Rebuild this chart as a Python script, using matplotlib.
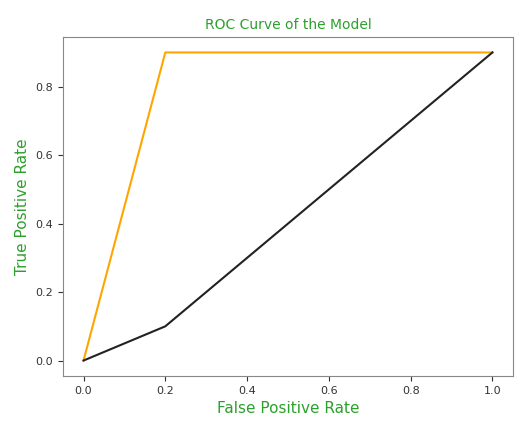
import numpy as np
import matplotlib
matplotlib.use('Agg')
import matplotlib.pyplot as plt

# roc points of the model
fpr = [0.0, 0.2, 1.0]
tpr = [0.0, 0.9, 0.9]
# second curve
fpr2 = [0.0, 0.2, 1.0]
tpr2 = [0.0, 0.1, 0.9]

fig = plt.figure(figsize=(5.17, 4.21), dpi=100)
ax = fig.add_axes([0.122, 0.107, 0.870, 0.805])
ax.plot(fpr, tpr, color='orange', linewidth=1.5)
ax.plot(fpr2, tpr2, color='#222222', linewidth=1.5)
ax.set_xticks([0.0, 0.2, 0.4, 0.6, 0.8, 1.0])
ax.set_yticks([0.0, 0.2, 0.4, 0.6, 0.8])
ax.tick_params(labelsize=8, colors='#333333')
for s in ax.spines.values():
    s.set_color('#888888')
ax.set_title('ROC Curve of the Model', color='#2ca02c', fontsize=10)
ax.set_xlabel('False Positive Rate', color='#2ca02c', fontsize=11)
ax.set_ylabel('True Positive Rate', color='#2ca02c', fontsize=11)
plt.savefig('out.png', dpi=100)
